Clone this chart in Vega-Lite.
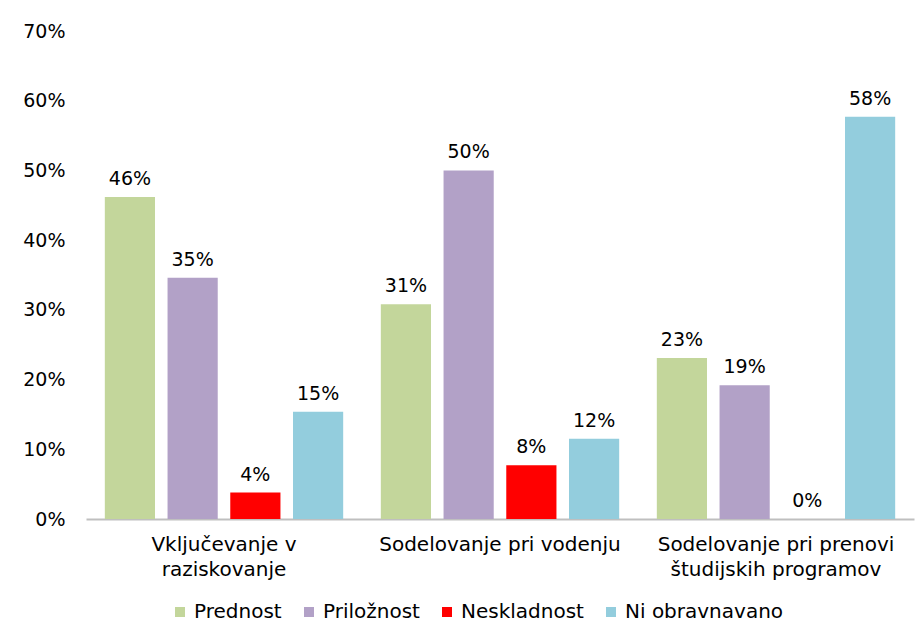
{
  "$schema": "https://vega.github.io/schema/vega-lite/v6.json",
  "autosize": {"type": "none"},
  "width": 828,
  "height": 488,
  "padding": {"left": 86, "top": 31, "right": 3, "bottom": 113},
  "background": "white",
  "config": {
    "view": {"stroke": null},
    "font": "DejaVu Sans",
    "axis": {"labelFont": "DejaVu Sans", "labelFontSize": 19, "labelColor": "#000000", "grid": false, "ticks": false, "title": null},
    "legend": {"labelFont": "DejaVu Sans", "labelFontSize": 20, "labelColor": "#000000"}
  },
  "data": {
    "values": [
      {"cat": "Vključevanje v|raziskovanje", "series": "Prednost", "value": 0.462},
      {"cat": "Vključevanje v|raziskovanje", "series": "Priložnost", "value": 0.346},
      {"cat": "Vključevanje v|raziskovanje", "series": "Neskladnost", "value": 0.038},
      {"cat": "Vključevanje v|raziskovanje", "series": "Ni obravnavano", "value": 0.154},
      {"cat": "Sodelovanje pri vodenju", "series": "Prednost", "value": 0.308},
      {"cat": "Sodelovanje pri vodenju", "series": "Priložnost", "value": 0.5},
      {"cat": "Sodelovanje pri vodenju", "series": "Neskladnost", "value": 0.077},
      {"cat": "Sodelovanje pri vodenju", "series": "Ni obravnavano", "value": 0.115},
      {"cat": "Sodelovanje pri prenovi|študijskih programov", "series": "Prednost", "value": 0.231},
      {"cat": "Sodelovanje pri prenovi|študijskih programov", "series": "Priložnost", "value": 0.192},
      {"cat": "Sodelovanje pri prenovi|študijskih programov", "series": "Neskladnost", "value": 0.0},
      {"cat": "Sodelovanje pri prenovi|študijskih programov", "series": "Ni obravnavano", "value": 0.577}
    ]
  },
  "encoding": {
    "x": {
      "field": "cat", "type": "nominal", "sort": null,
      "scale": {"paddingInner": 0, "paddingOuter": 0},
      "axis": {"labelAngle": 0, "labelExpr": "split(datum.label, '|')", "labelFontSize": 20, "labelPadding": 15, "labelLineHeight": 25, "labelBaseline": "top", "domainColor": "#bfbfbf", "domainWidth": 2, "labelLimit": 400}
    },
    "xOffset": {
      "field": "series", "type": "nominal",
      "sort": ["Prednost", "Priložnost", "Neskladnost", "Ni obravnavano"],
      "scale": {"paddingInner": 0.2, "paddingOuter": 0.3}
    },
    "y": {
      "field": "value", "type": "quantitative",
      "scale": {"domain": [0, 0.7], "nice": false},
      "axis": {"format": ".0%", "values": [0, 0.1, 0.2, 0.3, 0.4, 0.5, 0.6, 0.7], "domain": false, "labelPadding": 21}
    }
  },
  "layer": [
    {
      "mark": {"type": "bar"},
      "encoding": {
        "color": {
          "field": "series", "type": "nominal",
          "sort": ["Prednost", "Priložnost", "Neskladnost", "Ni obravnavano"],
          "scale": {"domain": ["Prednost", "Priložnost", "Neskladnost", "Ni obravnavano"], "range": ["#C3D69B", "#B2A1C7", "#FF0000", "#93CDDD"]},
          "legend": {"title": null, "orient": "none", "direction": "horizontal", "legendX": 84, "legendY": 571, "symbolType": "square", "symbolSize": 100, "symbolStrokeWidth": 0, "labelOffset": 4, "columnPadding": 17}
        }
      }
    },
    {
      "mark": {"type": "text", "baseline": "alphabetic", "dy": -12, "fontSize": 19, "color": "#000000", "font": "DejaVu Sans"},
      "encoding": {
        "text": {"field": "value", "type": "quantitative", "format": ".0%"}
      }
    }
  ]
}
